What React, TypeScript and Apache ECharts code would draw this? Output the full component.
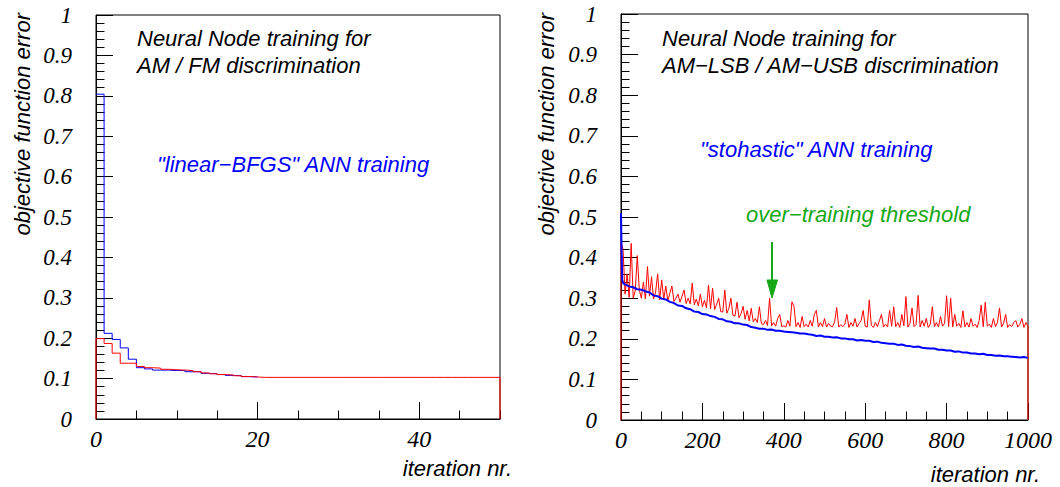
import React, { useEffect, useRef } from "react";
import * as echarts from "echarts";

// ---------- data ----------
// Left panel: per-iteration objective function error (bins of width 1)
const leftBlue = [0.804, 0.212, 0.197, 0.176, 0.148, 0.127, 0.124, 0.121, 0.121, 0.120,
  0.120, 0.117, 0.117, 0.113, 0.112, 0.110, 0.108, 0.107, 0.105, 0.104];
const leftRed = [0.199, 0.187, 0.163, 0.138, 0.138, 0.130, 0.127, 0.126, 0.123, 0.122,
  0.121, 0.120, 0.117, 0.114, 0.112, 0.110, 0.109, 0.107, 0.105, 0.104,
  0.103, 0.103, 0.103, 0.103, 0.103, 0.103, 0.103, 0.103, 0.103, 0.103,
  0.103, 0.103, 0.103, 0.103, 0.103, 0.103, 0.103, 0.103, 0.103, 0.103,
  0.103, 0.103, 0.103, 0.103, 0.103, 0.103, 0.103, 0.103, 0.103, 0.103];

// Right panel: blue (training) first iterations, then one value every 10 iterations from 10 to 1000
const rightBlueHead = [[0, 0.51], [1, 0.44], [3, 0.345], [6, 0.336]];
const rightBlueStep = 10;
const rightBlue = [
  0.334, 0.329, 0.327, 0.322, 0.321, 0.317, 0.314, 0.307, 0.305, 0.299,
  0.297, 0.291, 0.288, 0.282, 0.281, 0.275, 0.273, 0.267, 0.266, 0.261,
  0.260, 0.256, 0.254, 0.249, 0.248, 0.243, 0.242, 0.238, 0.238, 0.235,
  0.234, 0.229, 0.227, 0.225, 0.225, 0.222, 0.223, 0.220, 0.220, 0.218,
  0.217, 0.216, 0.215, 0.213, 0.213, 0.211, 0.210, 0.207, 0.208, 0.205,
  0.205, 0.203, 0.204, 0.201, 0.201, 0.199, 0.199, 0.196, 0.197, 0.195,
  0.195, 0.192, 0.193, 0.190, 0.189, 0.188, 0.188, 0.185, 0.186, 0.183,
  0.182, 0.180, 0.181, 0.178, 0.177, 0.176, 0.176, 0.173, 0.173, 0.171,
  0.171, 0.168, 0.169, 0.166, 0.166, 0.164, 0.164, 0.162, 0.163, 0.160,
  0.160, 0.158, 0.159, 0.157, 0.157, 0.156, 0.155, 0.154, 0.155, 0.153];

// Right panel: red (test) one value every 5 iterations from 0 to 1000
const rightRedStep = 5;
const rightRed = [
  0.440, 0.420, 0.310, 0.360, 0.302, 0.435, 0.300, 0.318, 0.405, 0.320,
  0.300, 0.340, 0.298, 0.378, 0.305, 0.353, 0.298, 0.315, 0.360, 0.296,
  0.345, 0.297, 0.330, 0.294, 0.312, 0.330, 0.292, 0.300, 0.310, 0.290,
  0.305, 0.320, 0.287, 0.300, 0.286, 0.337, 0.284, 0.298, 0.281, 0.310,
  0.279, 0.295, 0.276, 0.332, 0.274, 0.325, 0.272, 0.285, 0.300, 0.267,
  0.266, 0.320, 0.263, 0.275, 0.300, 0.258, 0.256, 0.290, 0.252, 0.262,
  0.280, 0.248, 0.270, 0.244, 0.275, 0.242, 0.250, 0.240, 0.279, 0.237,
  0.235, 0.245, 0.233, 0.300, 0.232, 0.240, 0.231, 0.250, 0.260, 0.230,
  0.232, 0.229, 0.245, 0.231, 0.291, 0.280, 0.230, 0.240, 0.228, 0.255,
  0.230, 0.236, 0.229, 0.245, 0.231, 0.260, 0.270, 0.229, 0.240, 0.230,
  0.250, 0.229, 0.238, 0.231, 0.230, 0.242, 0.277, 0.229, 0.235, 0.230,
  0.236, 0.260, 0.228, 0.240, 0.231, 0.250, 0.229, 0.238, 0.245, 0.270,
  0.231, 0.229, 0.296, 0.233, 0.228, 0.240, 0.230, 0.245, 0.260, 0.229,
  0.236, 0.229, 0.270, 0.231, 0.279, 0.230, 0.240, 0.228, 0.260, 0.232,
  0.304, 0.229, 0.238, 0.276, 0.230, 0.235, 0.307, 0.229, 0.245, 0.231,
  0.250, 0.228, 0.236, 0.279, 0.230, 0.240, 0.229, 0.255, 0.231, 0.238,
  0.306, 0.230, 0.300, 0.229, 0.260, 0.231, 0.238, 0.228, 0.269, 0.230,
  0.240, 0.229, 0.250, 0.231, 0.236, 0.228, 0.245, 0.283, 0.230, 0.290,
  0.231, 0.236, 0.228, 0.250, 0.230, 0.240, 0.276, 0.229, 0.238, 0.260,
  0.228, 0.235, 0.230, 0.240, 0.245, 0.229, 0.236, 0.250, 0.228, 0.240,
  0.232];

const texts = {
  title1: "Neural Node training for",
  leftTitle2: "AM / FM discrimination",
  rightTitle2: "AM\u2212LSB / AM\u2212USB discrimination",
  leftMethod: "\"linear\u2212BFGS\" ANN training",
  rightMethod: "\"stohastic\" ANN training",
  threshold: "over\u2212training threshold",
  yTitle: "objective function error",
  xTitle: "iteration nr.",
};

// ---------- helpers ----------
function stair(vals: number[], startFromZero: boolean, dropAtEnd: boolean) {
  const pts: number[][] = [];
  if (startFromZero) pts.push([0, 0]);
  vals.forEach((v, i) => {
    pts.push([i, v]);
    pts.push([i + 1, v]);
  });
  if (dropAtEnd) pts.push([vals.length, 0]);
  return pts;
}

const SANS = '"Liberation Sans", Arial, Helvetica, sans-serif';
const SERIF = '"Liberation Serif", "Times New Roman", serif';
const RED = "#ff0000";
const BLUE = "#0000ff";
const GREEN = "#17a817";

function yAxisCfg(gridIndex: number) {
  return {
    type: "value",
    gridIndex,
    min: 0,
    max: 1,
    interval: 0.1,
    axisLine: { show: true, lineStyle: { color: "#000", width: 1 } },
    axisTick: { show: true, inside: true, length: 17, lineStyle: { color: "#000", width: 1 } },
    minorTick: { show: true, splitNumber: 5, length: 8.5, lineStyle: { color: "#000", width: 1 } },
    splitLine: { show: false },
    minorSplitLine: { show: false },
    axisLabel: {
      margin: 24,
      fontFamily: SERIF,
      fontStyle: "italic",
      fontSize: 23,
      color: "#000",
      formatter: (v: number) => String(Math.round(v * 10) / 10),
    },
  };
}

export default function App() {
  const ref = useRef<HTMLDivElement>(null);
  useEffect(() => {
    if (!ref.current) return;
    const chart = echarts.init(ref.current, undefined, { renderer: "svg" });

    const leftBluePts = stair(leftBlue, false, false);
    const leftRedPts = stair(leftRed, true, true);
    const rightBluePts = rightBlueHead.concat(
      rightBlue.map((v, i) => [(i + 1) * rightBlueStep, v])
    );
    const rightRedPts = [[0, 0]]
      .concat(rightRed.map((v, i) => [i * rightRedStep, v]))
      .concat([[(rightRed.length - 1) * rightRedStep, 0]]);

    const xLabel = {
      margin: 8,
      fontFamily: SERIF,
      fontStyle: "italic",
      fontSize: 24,
      color: "#000",
      formatter: (v: number) => String(v),
    };

    const txt = (x: number, y: number, text: string, fill: string, extra: any = {}) => ({
      type: "text",
      x,
      y,
      z: 100,
      ...extra,
      style: {
        text,
        fill,
        fontFamily: SANS,
        fontStyle: "italic",
        fontSize: 22,
        align: "left",
        verticalAlign: "top",
        ...(extra.style || {}),
      },
    });

    chart.setOption({
      animation: false,
      backgroundColor: "#fff",
      grid: [
        { left: 96, top: 15, width: 404, height: 404, show: true, borderColor: "#000", borderWidth: 1, backgroundColor: "transparent" },
        { left: 621, top: 14, width: 407, height: 406, show: true, borderColor: "#000", borderWidth: 1, backgroundColor: "transparent" },
      ],
      xAxis: [
        {
          type: "value", gridIndex: 0, min: 0, max: 50, interval: 20, position: "bottom",
          axisLine: { show: true, lineStyle: { color: "#000" } },
          axisTick: { show: true, inside: true, length: 17, lineStyle: { color: "#000" } },
          splitLine: { show: false },
          axisLabel: { ...xLabel, showMaxLabel: false },
        },
        {
          type: "value", gridIndex: 0, min: 0, max: 50, interval: 5, position: "bottom",
          axisLine: { show: false },
          axisTick: { show: true, inside: true, length: 8.5, lineStyle: { color: "#000" } },
          splitLine: { show: false },
          axisLabel: { show: false },
        },
        {
          type: "value", gridIndex: 1, min: 0, max: 1000, interval: 200, position: "bottom",
          axisLine: { show: true, lineStyle: { color: "#000" } },
          axisTick: { show: true, inside: true, length: 17, lineStyle: { color: "#000" } },
          minorTick: { show: true, splitNumber: 4, length: 8.5, lineStyle: { color: "#000" } },
          splitLine: { show: false },
          minorSplitLine: { show: false },
          axisLabel: xLabel,
        },
      ],
      yAxis: [yAxisCfg(0), yAxisCfg(1)],
      series: [
        {
          type: "line", xAxisIndex: 0, yAxisIndex: 0, data: leftBluePts, symbol: "none",
          lineStyle: { color: BLUE, width: 1 }, z: 2,
        },
        {
          type: "line", xAxisIndex: 0, yAxisIndex: 0, data: leftRedPts, symbol: "none",
          lineStyle: { color: RED, width: 1 }, z: 3,
        },
        {
          type: "line", xAxisIndex: 2, yAxisIndex: 1, data: rightRedPts, symbol: "none",
          lineStyle: { color: RED, width: 1 }, z: 2,
        },
        {
          type: "line", xAxisIndex: 2, yAxisIndex: 1, data: rightBluePts, symbol: "none",
          lineStyle: { color: BLUE, width: 2 }, z: 3,
        },
      ],
      graphic: [
        txt(137, 27, texts.title1, "#000"),
        txt(137, 54, texts.leftTitle2, "#000"),
        txt(157, 153, texts.leftMethod, BLUE),
        txt(662, 27, texts.title1, "#000"),
        txt(662, 54, texts.rightTitle2, "#000"),
        txt(700, 138, texts.rightMethod, BLUE),
        txt(746, 203, texts.threshold, GREEN),
        txt(512, 457, texts.xTitle, "#000", { style: { align: "right" } }),
        txt(1040, 463, texts.xTitle, "#000", { style: { align: "right" } }),
        txt(11, 13, texts.yTitle, "#000", { rotation: Math.PI / 2, style: { align: "right" } }),
        txt(535, 13, texts.yTitle, "#000", { rotation: Math.PI / 2, style: { align: "right" } }),
        {
          type: "line", z: 100,
          shape: { x1: 772, y1: 242, x2: 772, y2: 284 },
          style: { stroke: GREEN, lineWidth: 2 },
        },
        {
          type: "polygon", z: 100,
          shape: { points: [[767, 280], [777.5, 280], [772, 298]] },
          style: { fill: GREEN, stroke: GREEN, lineWidth: 1 },
        },
      ],
    });

    return () => chart.dispose();
  }, []);

  return (
    <div
      ref={ref}
      style={{ position: "absolute", left: 0, top: 0, width: 1060, height: 487, background: "#fff" }}
    />
  );
}
